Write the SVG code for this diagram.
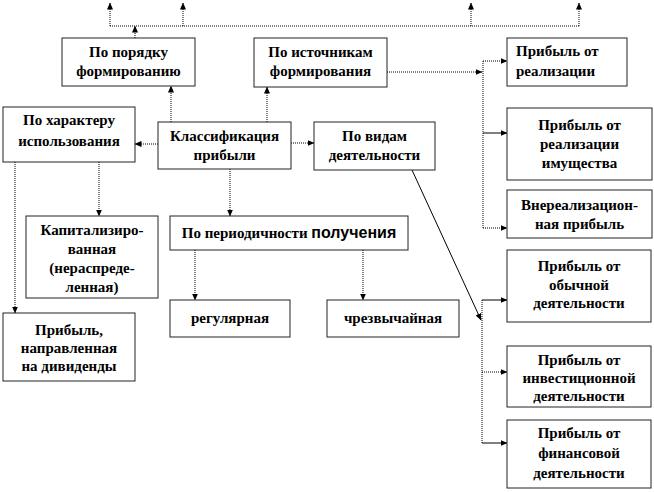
<svg xmlns="http://www.w3.org/2000/svg" width="654" height="492" viewBox="0 0 654 492">
<defs>
<marker id="ah" markerWidth="7" markerHeight="6" refX="6.5" refY="3" orient="auto" markerUnits="userSpaceOnUse">
<path d="M0,0 L7,3 L0,6 Z" fill="#000"/>
</marker>
<style>
.box{fill:#fff;stroke:#222;stroke-width:1}
text{font-family:"Liberation Serif","DejaVu Serif","Times New Roman",serif;font-weight:bold;font-size:15px;fill:#000;text-anchor:middle}
.tl{text-anchor:start}
.s{font-family:"Liberation Sans",Arial,sans-serif;font-size:16px}
.c{fill:none;stroke:#000;stroke-width:1}
.d{stroke-dasharray:1 1}
.a{marker-end:url(#ah)}
</style>
</defs>
<rect width="654" height="492" fill="#fff"/>
<g id="connectors">
<path class="c d" d="M110,26 H579"/>
<path class="c d a" d="M110,26 V3"/>
<path class="c d a" d="M183,26 V3"/>
<path class="c d a" d="M471,26 V3"/>
<path class="c d a" d="M579,26 V3"/>
<path class="c d a" d="M135,38 V26"/>
<path class="c d a" d="M171,122 V86"/>
<path class="c d a" d="M267,122 V87"/>
<path class="c d a" d="M387,72 H482"/>
<path class="c d" d="M483,61 V228"/>
<path class="c d a" d="M483,61 H507"/>
<path class="c a" d="M483,133 H507"/>
<path class="c d a" d="M483,228 H507"/>
<path class="c d a" d="M158,144 H135"/>
<path class="c d a" d="M291,143 H314"/>
<path class="c d a" d="M230,169 V216"/>
<path class="c d a" d="M99,162 V216"/>
<path class="c d a" d="M15,162 V313"/>
<path class="c d a" d="M195,250 V300"/>
<path class="c d a" d="M363,250 V300"/>
<path class="c a" d="M412,170 L481,320"/>
<path class="c d" d="M482,300 V443"/>
<path class="c a" d="M482,300 H507"/>
<path class="c d a" d="M482,372 H507"/>
<path class="c a" d="M482,443 H507"/>
</g>
<g id="n-poryadok"><rect class="box" x="62" y="38" width="133" height="48"/><text x="128.5" y="57">По порядку</text><text x="128.5" y="76">формированию</text></g>
<g id="n-istochniki"><rect class="box" x="254" y="38" width="133" height="49"/><text x="320.5" y="57">По источникам</text><text x="320.5" y="76">формирования</text></g>
<g id="n-realizacii"><rect class="box" x="507" y="38" width="120" height="48"/><text class="tl" x="516" y="56">Прибыль от</text><text class="tl" x="516" y="76">реализации</text></g>
<g id="n-harakter"><rect class="box" x="3" y="107" width="132" height="55"/><text x="69" y="125">По характеру</text><text x="69" y="146">использования</text></g>
<g id="n-klass"><rect class="box" x="158" y="122" width="133" height="47"/><text x="224.5" y="141">Классификация</text><text x="224.5" y="160">прибыли</text></g>
<g id="n-vidy"><rect class="box" x="314" y="122" width="121" height="48"/><text x="374.5" y="141">По видам</text><text x="374.5" y="160">деятельности</text></g>
<g id="n-imushestvo"><rect class="box" x="507" y="108" width="145" height="72"/><text x="579.5" y="130">Прибыль от</text><text x="579.5" y="149">реализации</text><text x="579.5" y="168">имущества</text></g>
<g id="n-vnereal"><rect class="box" x="507" y="190" width="145" height="48"/><text x="579.5" y="210">Внереализацион-</text><text x="579.5" y="229">ная прибыль</text></g>
<g id="n-kapital"><rect class="box" x="26" y="216" width="132" height="82"/><text x="92" y="235">Капитализиро-</text><text x="92" y="254">ванная</text><text x="92" y="273">(нераспреде-</text><text x="92" y="292">ленная)</text></g>
<g id="n-period"><rect class="box" x="170" y="216" width="238" height="34"/><text x="289" y="238">По периодичности <tspan class="s">получения</tspan></text></g>
<g id="n-dividendy"><rect class="box" x="3" y="313" width="132" height="68"/><text x="69" y="335">Прибыль,</text><text x="69" y="353">направленная</text><text x="69" y="371">на дивиденды</text></g>
<g id="n-regular"><rect class="box" x="170" y="300" width="120" height="37"/><text x="230" y="323">регулярная</text></g>
<g id="n-chrezv"><rect class="box" x="327" y="300" width="132" height="37"/><text x="393" y="323">чрезвычайная</text></g>
<g id="n-obych"><rect class="box" x="507" y="250" width="144" height="72"/><text x="579" y="271">Прибыль от</text><text x="579" y="290">обычной</text><text x="579" y="308">деятельности</text></g>
<g id="n-invest"><rect class="box" x="507" y="346" width="144" height="61"/><text x="579" y="365">Прибыль от</text><text x="579" y="383">инвестиционной</text><text x="579" y="401">деятельности</text></g>
<g id="n-finans"><rect class="box" x="507" y="420" width="144" height="68"/><text x="579" y="438">Прибыль от</text><text x="579" y="458">финансовой</text><text x="579" y="478">деятельности</text></g>
</svg>
